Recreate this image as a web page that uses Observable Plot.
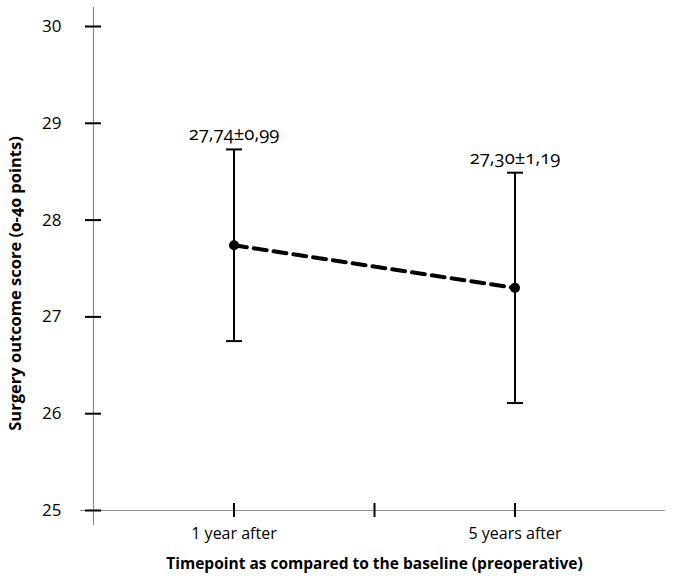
<!DOCTYPE html>
<html>
<head>
<meta charset="utf-8">
<script src="https://cdn.jsdelivr.net/npm/d3@7"></script>
<script src="https://cdn.jsdelivr.net/npm/@observablehq/plot@0.6"></script>
<style>
  html, body { margin: 0; padding: 0; background: #fff; }
  #chart svg { font-family: "Open Sans", Lato, sans-serif; font-variant-numeric: oldstyle-nums; }
</style>
</head>
<body>
<div id="chart"></div>
<script>
// ---- data ----
const timepoints = ["1 year after", "5 years after"];
const timepointPos = [1, 3];
const means = [27.74, 27.30];
const sds = [0.99, 1.19];
const valueLabels = ["27,74±0,99", "27,30±1,19"];
const xTickValues = [1, 2, 3];
const yTickValues = [25, 26, 27, 28, 29, 30];
const xDomain = [0, 4];
const yDomain = [25, 30];
const xAxisExtent = [-0.093, 4.07];
const yAxisExtent = [24.845, 30.196];
const yTitle = "Surgery outcome score (0-40 points)";
const xTitle = "Timepoint as compared to the baseline (preoperative)";

const data = timepoints.map((t, i) => ({
  name: t, x: timepointPos[i], mean: means[i], lo: means[i] - sds[i], hi: means[i] + sds[i], label: valueLabels[i]
}));

const capSymbol = {
  draw(context, size) {
    const r = Math.sqrt(size / Math.PI);
    context.moveTo(-r, 0);
    context.lineTo(r, 0);
  }
};

const chart = Plot.plot({
  width: 674,
  height: 579,
  marginLeft: 93,
  marginRight: 19,
  marginTop: 26,
  marginBottom: 69,
  x: { domain: xDomain },
  y: { domain: yDomain },
  style: { fontFamily: "'Open Sans', Lato, sans-serif", color: "#000", background: "#fff" },
  marks: [
    // axis lines
    Plot.ruleY([yDomain[0]], { x1: xAxisExtent[0], x2: xAxisExtent[1], stroke: "#8c8c8c", strokeWidth: 1.2 }),
    Plot.ruleX([xDomain[0]], { y1: yAxisExtent[0], y2: yAxisExtent[1], stroke: "#8c8c8c", strokeWidth: 1.2 }),
    // y axis ticks and labels
    Plot.axisY({ ticks: yTickValues, tickSize: 16, dx: 8, tickPadding: 24, strokeWidth: 2, stroke: "#000", fontSize: 17, label: null, tickFormat: d => String(d) }),
    // x axis ticks and labels
    Plot.axisX({ ticks: xTickValues, tickSize: 14, dy: -7, tickPadding: 10, strokeWidth: 2, stroke: "#000", fontSize: 16, label: null,
      tickFormat: d => { const i = timepointPos.indexOf(d); return i >= 0 ? timepoints[i] : ""; } }),
    // error bars
    Plot.ruleX(data, { x: "x", y1: "lo", y2: "hi", stroke: "#000", strokeWidth: 2 }),
    Plot.dot(data, { x: "x", y: "hi", symbol: capSymbol, r: 8, stroke: "#000", strokeWidth: 2, fill: "none" }),
    Plot.dot(data, { x: "x", y: "lo", symbol: capSymbol, r: 8, stroke: "#000", strokeWidth: 2, fill: "none" }),
    // dashed mean line
    Plot.line(data, { x: "x", y: "mean", stroke: "#000", strokeWidth: 4, strokeDasharray: "13,7" }),
    Plot.dot(data, { x: "x", y: "mean", r: 5, fill: "#000" }),
    // value labels
    Plot.text(data, { x: "x", y: "hi", text: "label", lineAnchor: "bottom", dy: -9, fontSize: 18.5, fill: "#000" }),
    // titles
    Plot.text([yTitle], { frameAnchor: "left", textAnchor: "middle", dx: -78, dy: 15, rotate: -90, fontSize: 16.5, fontWeight: "bold", fill: "#000" }),
    Plot.text([xTitle], { frameAnchor: "bottom", dy: 58, fontSize: 15.5, fontWeight: "bold", fill: "#000" })
  ]
});
document.getElementById("chart").appendChild(chart);
</script>
</body>
</html>
